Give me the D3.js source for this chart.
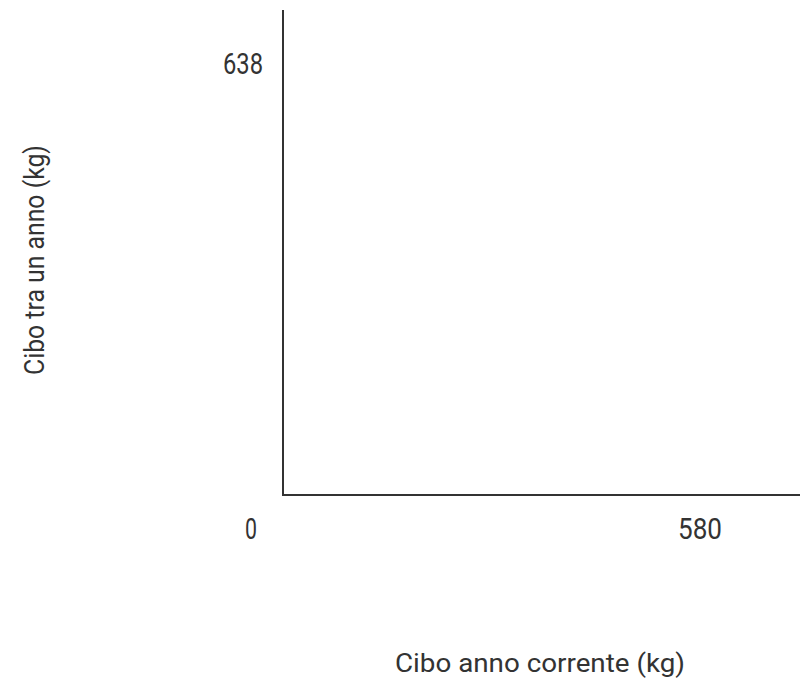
<!DOCTYPE html>
<html><head><meta charset="utf-8">
<script src="https://cdn.jsdelivr.net/npm/d3@7"></script>
<style>body{margin:0;background:#fff}svg{display:block}</style>
</head><body>
<script>
const xTicks = [0, 580];
const yTicks = [638];
const xLabel = "Cibo anno corrente (kg)";
const yLabel = "Cibo tra un anno (kg)";

const W = 800, H = 678;
const ox = 283, oy = 495;
const font = "Roboto, 'Liberation Sans', sans-serif";
const col = "#333";

const svg = d3.select("body").append("svg").attr("width", W).attr("height", H);
const x = d3.scaleLinear().domain([0, 580]).range([ox, 700]);
const y = d3.scaleLinear().domain([0, 638]).range([oy, 63]);

// axis lines
svg.append("line").attr("x1", ox).attr("x2", ox).attr("y1", 10).attr("y2", oy + 1)
  .attr("stroke", col).attr("stroke-width", 2);
svg.append("line").attr("x1", ox - 1).attr("x2", W).attr("y1", oy).attr("y2", oy)
  .attr("stroke", col).attr("stroke-width", 2);

const tickW = t => String(t).length * 14;

// tick labels
svg.selectAll(".xt").data(xTicks).join("text")
  .attr("x", d => d === 0 ? x(d) - 32 : x(d))
  .attr("y", 539).attr("text-anchor", "middle")
  .attr("font-family", font).attr("font-size", 30).attr("fill", col)
  .attr("textLength", d => tickW(d) + (d === 0 ? -2 : 2)).attr("lengthAdjust", "spacingAndGlyphs")
  .text(d => d);
svg.selectAll(".yt").data(yTicks).join("text")
  .attr("x", 243).attr("y", d => y(d) + 11).attr("text-anchor", "middle")
  .attr("font-family", font).attr("font-size", 29).attr("fill", col)
  .attr("textLength", d => tickW(d) - 2).attr("lengthAdjust", "spacingAndGlyphs")
  .text(d => d);

// axis titles
svg.append("text").attr("x", 540).attr("y", 672).attr("text-anchor", "middle")
  .attr("font-family", font).attr("font-size", 26).attr("fill", col)
  .attr("textLength", 290).attr("lengthAdjust", "spacingAndGlyphs").text(xLabel);
svg.append("text").attr("transform", "translate(44,260) rotate(-90)").attr("text-anchor", "middle")
  .attr("font-family", font).attr("font-size", 28).attr("fill", col)
  .attr("textLength", 230).attr("lengthAdjust", "spacingAndGlyphs").text(yLabel);
</script>
</body></html>
